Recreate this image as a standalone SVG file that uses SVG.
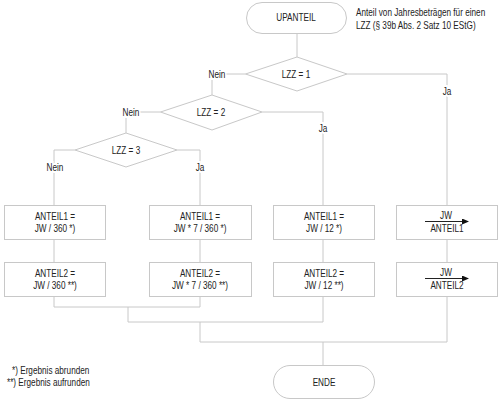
<svg xmlns="http://www.w3.org/2000/svg" width="500" height="401" viewBox="0 0 500 401">
<style>
text{font-family:"Liberation Sans",Arial,sans-serif;font-size:10px;fill:#222}
.c{text-anchor:middle}
.lbl{text-anchor:middle;paint-order:stroke;stroke:#fff;stroke-width:4px}
.shape{fill:#fff;stroke:#c8c8c8;stroke-width:1}
.conn{fill:none;stroke:#c8c8c8;stroke-width:1}
.arr{stroke:#222;stroke-width:1;fill:none}
</style>
<defs>
<marker id="ah" markerWidth="7" markerHeight="6" refX="6" refY="3" orient="auto" markerUnits="userSpaceOnUse">
<path d="M0,0 L7,3 L0,6 Z" fill="#111"/>
</marker>
</defs>
<rect width="500" height="401" fill="#fff"/>
<g id="connectors">
<path class="conn" d="M297,33 V57"/>
<path class="conn" d="M245.5,74 H212 V95"/>
<path class="conn" d="M347,74 H447 V205"/>
<path class="conn" d="M160.5,112 H126 V133"/>
<path class="conn" d="M262,112 H323 V205"/>
<path class="conn" d="M75,150 H54 V205"/>
<path class="conn" d="M177,150 H200 V205"/>
<path class="conn" d="M54,239 V262"/>
<path class="conn" d="M200,239 V262"/>
<path class="conn" d="M323,239 V262"/>
<path class="conn" d="M447,239 V262"/>
<path class="conn" d="M54,296 V307 H200 V296"/>
<path class="conn" d="M128,307 V322 H323 V296"/>
<path class="conn" d="M200,322 V342 H447 V296"/>
<path class="conn" d="M323,342 V365"/>
<text class="lbl" transform="translate(217,77.5) scale(.82,1)">Nein</text>
<text class="lbl" transform="translate(131,115.5) scale(.82,1)">Nein</text>
<text class="lbl" transform="translate(55,170.5) scale(.82,1)">Nein</text>
<text class="lbl" transform="translate(200,170.5) scale(.82,1)">Ja</text>
<text class="lbl" transform="translate(323,131.5) scale(.82,1)">Ja</text>
<text class="lbl" transform="translate(447,94.5) scale(.82,1)">Ja</text>
</g>
<g id="upanteil">
<rect class="shape" x="246.5" y="2.5" width="100" height="31" rx="15.5"/>
<text class="c" transform="translate(296,21) scale(.82,1)">UPANTEIL</text>
</g>
<g id="note">
<text transform="translate(356,16) scale(.82,1)">Anteil von Jahresbeträgen für einen</text>
<text transform="translate(356,29) scale(.82,1)">LZZ (§ 39b Abs. 2 Satz 10 EStG)</text>
</g>
<g id="lzz1">
<polygon class="shape" points="297,57 347,74 297,91 245.5,74"/>
<text class="c" transform="translate(296,77.5) scale(.82,1)">LZZ = 1</text>
</g>
<g id="lzz2">
<polygon class="shape" points="212,95 262,112 212,130 160.5,112"/>
<text class="c" transform="translate(211,115.5) scale(.82,1)">LZZ = 2</text>
</g>
<g id="lzz3">
<polygon class="shape" points="126,133 177,150 126,167 75,150"/>
<text class="c" transform="translate(126,153.5) scale(.82,1)">LZZ = 3</text>
</g>
<g id="b11">
<rect class="shape" x="4.5" y="205.5" width="101" height="34"/>
<text class="c" transform="translate(55,219.5) scale(.82,1)">ANTEIL1 =</text>
<text class="c" transform="translate(55,231.5) scale(.82,1)">JW / 360 *)</text>
</g>
<g id="b12">
<rect class="shape" x="149.5" y="205.5" width="102" height="34"/>
<text class="c" transform="translate(200,219.5) scale(.82,1)">ANTEIL1 =</text>
<text class="c" transform="translate(200,231.5) scale(.82,1)">JW * 7 / 360 *)</text>
</g>
<g id="b13">
<rect class="shape" x="273.5" y="205.5" width="101" height="34"/>
<text class="c" transform="translate(324,219.5) scale(.82,1)">ANTEIL1 =</text>
<text class="c" transform="translate(324,231.5) scale(.82,1)">JW / 12 *)</text>
</g>
<g id="b14">
<rect class="shape" x="396.5" y="205.5" width="101" height="34"/>
<text class="c" transform="translate(446,219) scale(.82,1)">JW</text>
<line class="arr" x1="425" y1="221.5" x2="468" y2="221.5" marker-end="url(#ah)"/>
<text class="c" transform="translate(447,231.5) scale(.82,1)">ANTEIL1</text>
</g>
<g id="b21">
<rect class="shape" x="4.5" y="262.5" width="101" height="34"/>
<text class="c" transform="translate(55,276.5) scale(.82,1)">ANTEIL2 =</text>
<text class="c" transform="translate(55,288.5) scale(.82,1)">JW / 360 **)</text>
</g>
<g id="b22">
<rect class="shape" x="149.5" y="262.5" width="102" height="34"/>
<text class="c" transform="translate(200,276.5) scale(.82,1)">ANTEIL2 =</text>
<text class="c" transform="translate(200,288.5) scale(.82,1)">JW * 7 / 360 **)</text>
</g>
<g id="b23">
<rect class="shape" x="273.5" y="262.5" width="101" height="34"/>
<text class="c" transform="translate(324,276.5) scale(.82,1)">ANTEIL2 =</text>
<text class="c" transform="translate(324,288.5) scale(.82,1)">JW / 12 **)</text>
</g>
<g id="b24">
<rect class="shape" x="396.5" y="262.5" width="101" height="34"/>
<text class="c" transform="translate(446,276) scale(.82,1)">JW</text>
<line class="arr" x1="425" y1="278.5" x2="468" y2="278.5" marker-end="url(#ah)"/>
<text class="c" transform="translate(447,288.5) scale(.82,1)">ANTEIL2</text>
</g>
<g id="ende">
<rect class="shape" x="273.5" y="365.5" width="101" height="33" rx="16.5"/>
<text class="c" transform="translate(324,385.5) scale(.82,1)">ENDE</text>
</g>
<g id="footnotes">
<text transform="translate(12,374) scale(.82,1)">*) Ergebnis abrunden</text>
<text transform="translate(7,386) scale(.82,1)">**) Ergebnis aufrunden</text>
</g>
</svg>
